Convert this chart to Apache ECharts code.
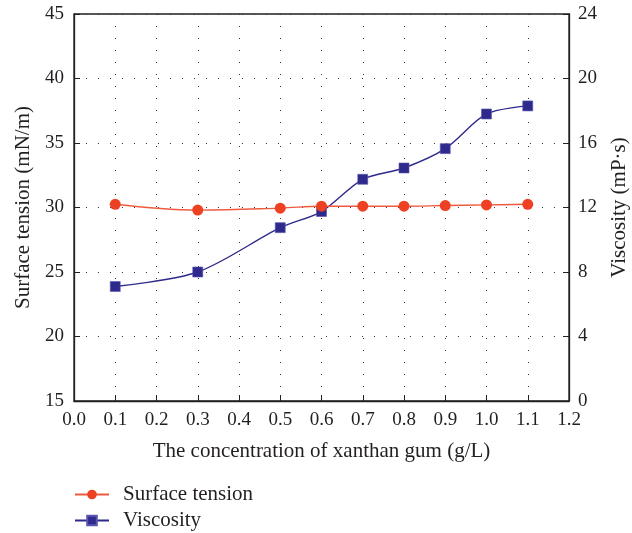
<!DOCTYPE html>
<html>
<head>
<meta charset="utf-8">
<script src="https://cdn.jsdelivr.net/npm/echarts@6/dist/echarts.min.js"></script>
<style>
  html, body { margin: 0; padding: 0; background: #fff; }
  #chart { width: 632px; height: 533px; }
</style>
</head>
<body>
<div id="chart"></div>
<script>
// Xanthan gum concentration (g/L)
const concentration = [0.1, 0.3, 0.5, 0.6, 0.7, 0.8, 0.9, 1.0, 1.1];
// Surface tension (mN/m), left axis
const surfaceTension = [30.25, 29.8, 29.95, 30.1, 30.1, 30.1, 30.15, 30.2, 30.25];
// Viscosity (mP·s), right axis
const viscosity = [7.1, 8.0, 10.75, 11.75, 13.75, 14.45, 15.65, 17.8, 18.3];

const FONT = 'Liberation Serif';
const INK = '#231f20';
const RED = '#ee4123';
const BLUE = '#2e2a8c';
const TICK_SIZE = 19;
const NAME_SIZE = 21;

const chart = echarts.init(document.getElementById('chart'));

const dotted = { show: true, lineStyle: { color: '#333', width: 1, type: [1, 11] } };

chart.setOption({
  backgroundColor: '#fff',
  animation: false,
  grid: {
    left: 74, right: 63, top: 14, bottom: 132,
    outerBoundsMode: 'none',
    containLabel: false,
    show: true, borderColor: INK, borderWidth: 1.3, backgroundColor: 'transparent'
  },
  legend: {
    orient: 'vertical',
    left: 74,
    top: 484,
    padding: 0,
    itemWidth: 34,
    itemHeight: 12,
    itemGap: 5,
    textStyle: { fontFamily: FONT, fontSize: NAME_SIZE, color: INK, padding: [0, 0, 0, 9] },
    data: ['Surface tension', 'Viscosity']
  },
  xAxis: {
    type: 'value',
    min: 0, max: 1.2, interval: 0.1,
    name: 'The concentration of xanthan gum (g/L)',
    nameLocation: 'middle',
    nameGap: 40,
    nameTextStyle: { fontFamily: FONT, fontSize: NAME_SIZE, color: INK },
    axisLine: { show: true, onZero: false, lineStyle: { color: INK, width: 1.3 } },
    axisTick: { show: true, inside: true, length: 6, lineStyle: { color: INK } },
    axisLabel: { fontFamily: FONT, fontSize: TICK_SIZE, color: INK, margin: 10, formatter: v => v.toFixed(1) },
    splitLine: dotted
  },
  yAxis: [
    {
      type: 'value',
      min: 15, max: 45, interval: 5,
      name: 'Surface tension (mN/m)',
      nameLocation: 'middle',
      nameGap: 40,
      nameTextStyle: { fontFamily: FONT, fontSize: NAME_SIZE, color: INK },
      axisLine: { show: true, lineStyle: { color: INK, width: 1.3 } },
      axisTick: { show: true, inside: true, length: 6, lineStyle: { color: INK } },
      axisLabel: { fontFamily: FONT, fontSize: TICK_SIZE, color: INK, margin: 10 },
      splitLine: dotted
    },
    {
      type: 'value',
      min: 0, max: 24, interval: 4,
      position: 'right',
      name: 'Viscosity (mP·s)',
      nameLocation: 'middle',
      nameGap: 40,
      nameRotate: 90,
      nameTextStyle: { fontFamily: FONT, fontSize: NAME_SIZE, color: INK },
      axisLine: { show: true, lineStyle: { color: INK, width: 1.3 } },
      axisTick: { show: true, inside: true, length: 6, lineStyle: { color: INK } },
      axisLabel: { fontFamily: FONT, fontSize: TICK_SIZE, color: INK, margin: 9 },
      splitLine: { show: false }
    }
  ],
  series: [
    {
      name: 'Surface tension',
      type: 'line',
      yAxisIndex: 0,
      smooth: 0.4,
      symbol: 'circle',
      symbolSize: 11,
      lineStyle: { color: '#ef5a3f', width: 1.4 },
      itemStyle: { color: RED },
      data: concentration.map((c, i) => [c, surfaceTension[i]]),
      z: 3
    },
    {
      name: 'Viscosity',
      type: 'line',
      yAxisIndex: 1,
      smooth: 0.3,
      symbol: 'rect',
      symbolSize: 10,
      lineStyle: { color: BLUE, width: 1.4 },
      itemStyle: { color: BLUE, borderColor: '#5a55b0', borderWidth: 0.6 },
      data: concentration.map((c, i) => [c, viscosity[i]]),
      z: 2
    }
  ]
});
</script>
</body>
</html>
